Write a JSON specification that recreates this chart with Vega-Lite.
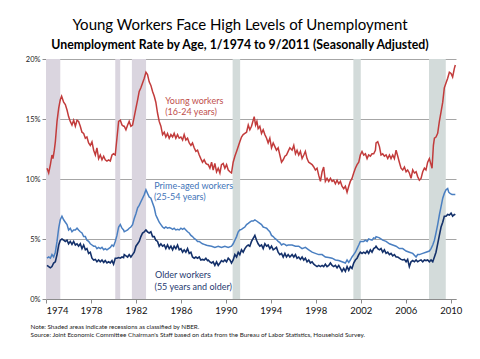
{
"$schema":"https://vega.github.io/schema/vega-lite/v6.json",
"width":410,"height":240,
"autosize":{"type":"none"},
"padding":{"left":46,"top":59,"right":24,"bottom":60},
"background":"white",
"config":{"font":"Lato","view":{"stroke":null}},
"title":{"text":"Young Workers Face High Levels of Unemployment","subtitle":"Unemployment Rate by Age, 1/1974 to 9/2011 (Seasonally Adjusted)","anchor":"middle","frame":"group","dx":-11,"fontSize":15,"fontWeight":"normal","color":"#000","subtitleFontSize":12.3,"subtitleFontWeight":"bold","subtitleColor":"#000","subtitlePadding":6,"offset":4},
"resolve":{"axis":{"x":"independent","y":"independent"},"scale":{"color":"independent"}},
"datasets":{
"rec":[{"s":1974,"e":1975.27,"k":"early"},{"s":1980.16,"e":1980.6,"k":"early"},{"s":1981.64,"e":1982.9,"k":"early"},{"s":1990.6,"e":1991.27,"k":"late"},{"s":2001.34,"e":2002.0,"k":"late"},{"s":2008.07,"e":2009.56,"k":"late"}],
"lab":[{"t":1984.6,"v":16.5,"txt":"Young workers","g":"y"},{"t":1984.6,"v":15.58,"txt":"(16-24 years)","g":"y"},{"t":1983.63,"v":9.44,"txt":"Prime-aged workers","g":"p"},{"t":1983.6,"v":8.53,"txt":"(25-54 years)","g":"p"},{"t":1983.7,"v":2.0,"txt":"Older workers","g":"o"},{"t":1983.65,"v":1.0,"txt":"(55 years and older)","g":"o"}],
"young":[{"t":1974.09,"v":10.9},{"t":1974.24,"v":10.5},{"t":1974.39,"v":11.2},{"t":1974.53,"v":12.0},{"t":1974.62,"v":11.7},{"t":1974.74,"v":12.4},{"t":1974.83,"v":13.1},{"t":1974.98,"v":14.8},{"t":1975.13,"v":15.9},{"t":1975.27,"v":16.6},{"t":1975.39,"v":16.9},{"t":1975.57,"v":16.4},{"t":1975.72,"v":16.2},{"t":1975.87,"v":15.75},{"t":1976.01,"v":15.2},{"t":1976.16,"v":14.8},{"t":1976.31,"v":14.5},{"t":1976.46,"v":14.9},{"t":1976.61,"v":14.4},{"t":1976.76,"v":14.9},{"t":1976.9,"v":14.8},{"t":1977.05,"v":14.4},{"t":1977.2,"v":13.9},{"t":1977.35,"v":13.8},{"t":1977.5,"v":13.4},{"t":1977.64,"v":13.5},{"t":1977.79,"v":13.0},{"t":1977.94,"v":12.8},{"t":1978.09,"v":13.1},{"t":1978.24,"v":12.4},{"t":1978.39,"v":12.0},{"t":1978.53,"v":12.6},{"t":1978.68,"v":11.7},{"t":1978.83,"v":12.0},{"t":1978.98,"v":11.6},{"t":1979.13,"v":11.9},{"t":1979.27,"v":11.6},{"t":1979.42,"v":11.5},{"t":1979.57,"v":11.6},{"t":1979.72,"v":11.5},{"t":1979.87,"v":12.0},{"t":1980.01,"v":12.1},{"t":1980.16,"v":12.0},{"t":1980.31,"v":13.4},{"t":1980.46,"v":14.8},{"t":1980.61,"v":14.9},{"t":1980.76,"v":14.5},{"t":1980.9,"v":14.4},{"t":1980.96,"v":14.4},{"t":1981.11,"v":14.1},{"t":1981.26,"v":14.5},{"t":1981.4,"v":14.8},{"t":1981.55,"v":14.4},{"t":1981.7,"v":14.5},{"t":1981.85,"v":15.2},{"t":1982.0,"v":15.9},{"t":1982.15,"v":16.6},{"t":1982.29,"v":17.3},{"t":1982.44,"v":17.6},{"t":1982.59,"v":18.0},{"t":1982.74,"v":18.4},{"t":1982.89,"v":18.9},{"t":1983.03,"v":18.7},{"t":1983.18,"v":18.1},{"t":1983.33,"v":17.8},{"t":1983.48,"v":17.3},{"t":1983.63,"v":16.9},{"t":1983.77,"v":16.4},{"t":1983.92,"v":15.5},{"t":1984.07,"v":14.8},{"t":1984.22,"v":14.4},{"t":1984.37,"v":13.7},{"t":1984.52,"v":13.9},{"t":1984.66,"v":13.5},{"t":1984.81,"v":13.8},{"t":1984.96,"v":13.4},{"t":1985.11,"v":13.7},{"t":1985.26,"v":13.5},{"t":1985.4,"v":13.8},{"t":1985.55,"v":13.4},{"t":1985.7,"v":13.7},{"t":1985.85,"v":13.4},{"t":1986.0,"v":13.5},{"t":1986.15,"v":13.25},{"t":1986.29,"v":13.7},{"t":1986.44,"v":13.25},{"t":1986.59,"v":13.4},{"t":1986.74,"v":13.0},{"t":1986.89,"v":12.8},{"t":1987.03,"v":13.0},{"t":1987.18,"v":12.6},{"t":1987.33,"v":12.3},{"t":1987.48,"v":12.4},{"t":1987.63,"v":12.0},{"t":1987.77,"v":11.7},{"t":1987.92,"v":11.4},{"t":1988.07,"v":11.6},{"t":1988.22,"v":11.3},{"t":1988.37,"v":11.2},{"t":1988.43,"v":11.2},{"t":1988.58,"v":10.9},{"t":1988.73,"v":11.4},{"t":1988.87,"v":10.75},{"t":1989.02,"v":11.3},{"t":1989.17,"v":10.6},{"t":1989.32,"v":10.9},{"t":1989.47,"v":10.5},{"t":1989.61,"v":11.2},{"t":1989.76,"v":11.3},{"t":1989.91,"v":10.9},{"t":1990.06,"v":11.2},{"t":1990.21,"v":10.75},{"t":1990.36,"v":10.6},{"t":1990.5,"v":10.5},{"t":1990.65,"v":11.4},{"t":1990.8,"v":11.9},{"t":1990.95,"v":12.3},{"t":1991.1,"v":12.7},{"t":1991.24,"v":13.1},{"t":1991.39,"v":13.5},{"t":1991.54,"v":13.7},{"t":1991.69,"v":13.8},{"t":1991.84,"v":13.9},{"t":1991.99,"v":14.5},{"t":1992.13,"v":14.1},{"t":1992.28,"v":14.4},{"t":1992.43,"v":14.9},{"t":1992.52,"v":15.2},{"t":1992.64,"v":14.5},{"t":1992.76,"v":14.8},{"t":1992.87,"v":14.2},{"t":1993.02,"v":14.4},{"t":1993.17,"v":13.8},{"t":1993.32,"v":14.1},{"t":1993.47,"v":13.7},{"t":1993.62,"v":13.4},{"t":1993.76,"v":13.0},{"t":1993.91,"v":13.4},{"t":1994.06,"v":12.6},{"t":1994.21,"v":13.0},{"t":1994.36,"v":12.7},{"t":1994.5,"v":12.4},{"t":1994.65,"v":12.6},{"t":1994.8,"v":12.0},{"t":1994.95,"v":11.4},{"t":1995.1,"v":11.6},{"t":1995.25,"v":11.9},{"t":1995.39,"v":12.0},{"t":1995.54,"v":12.3},{"t":1995.69,"v":12.6},{"t":1995.89,"v":12.4},{"t":1996.04,"v":12.8},{"t":1996.19,"v":12.1},{"t":1996.33,"v":12.4},{"t":1996.48,"v":12.0},{"t":1996.63,"v":12.3},{"t":1996.78,"v":11.7},{"t":1996.93,"v":12.0},{"t":1997.07,"v":12.3},{"t":1997.22,"v":11.7},{"t":1997.37,"v":11.4},{"t":1997.52,"v":11.3},{"t":1997.67,"v":11.2},{"t":1997.82,"v":11.0},{"t":1997.96,"v":10.75},{"t":1998.11,"v":10.9},{"t":1998.26,"v":10.3},{"t":1998.41,"v":9.8},{"t":1998.56,"v":10.6},{"t":1998.7,"v":11.0},{"t":1998.85,"v":9.8},{"t":1999.0,"v":10.05},{"t":1999.15,"v":9.8},{"t":1999.3,"v":10.05},{"t":1999.45,"v":9.8},{"t":1999.59,"v":9.9},{"t":1999.74,"v":9.6},{"t":1999.89,"v":9.9},{"t":2000.04,"v":9.6},{"t":2000.19,"v":9.8},{"t":2000.33,"v":9.4},{"t":2000.48,"v":9.2},{"t":2000.63,"v":9.4},{"t":2000.78,"v":8.9},{"t":2000.93,"v":9.4},{"t":2001.07,"v":9.8},{"t":2001.22,"v":10.05},{"t":2001.37,"v":10.5},{"t":2001.52,"v":10.9},{"t":2001.67,"v":11.2},{"t":2001.82,"v":11.4},{"t":2001.96,"v":12.0},{"t":2002.11,"v":12.3},{"t":2002.26,"v":12.0},{"t":2002.41,"v":12.1},{"t":2002.56,"v":11.7},{"t":2002.7,"v":12.0},{"t":2002.85,"v":11.9},{"t":2003.0,"v":12.1},{"t":2003.15,"v":12.1},{"t":2003.3,"v":12.4},{"t":2003.36,"v":13.0},{"t":2003.51,"v":13.1},{"t":2003.66,"v":12.7},{"t":2003.8,"v":12.0},{"t":2003.95,"v":12.1},{"t":2004.1,"v":11.9},{"t":2004.25,"v":12.0},{"t":2004.4,"v":11.7},{"t":2004.55,"v":12.0},{"t":2004.69,"v":11.7},{"t":2004.84,"v":12.0},{"t":2004.99,"v":11.7},{"t":2005.14,"v":12.4},{"t":2005.29,"v":11.9},{"t":2005.43,"v":11.4},{"t":2005.58,"v":10.9},{"t":2005.73,"v":10.75},{"t":2005.88,"v":11.0},{"t":2006.03,"v":10.6},{"t":2006.17,"v":10.75},{"t":2006.32,"v":10.5},{"t":2006.47,"v":10.05},{"t":2006.62,"v":10.75},{"t":2006.77,"v":10.5},{"t":2006.92,"v":10.6},{"t":2007.06,"v":10.2},{"t":2007.21,"v":9.9},{"t":2007.36,"v":10.05},{"t":2007.51,"v":10.6},{"t":2007.66,"v":10.9},{"t":2007.8,"v":10.75},{"t":2007.95,"v":11.4},{"t":2008.1,"v":11.7},{"t":2008.25,"v":11.2},{"t":2008.34,"v":10.9},{"t":2008.46,"v":12.8},{"t":2008.55,"v":13.4},{"t":2008.69,"v":13.5},{"t":2008.84,"v":13.8},{"t":2008.99,"v":14.8},{"t":2009.14,"v":15.6},{"t":2009.29,"v":16.4},{"t":2009.43,"v":17.6},{"t":2009.58,"v":18.0},{"t":2009.73,"v":18.4},{"t":2009.88,"v":18.9},{"t":2010.03,"v":18.8},{"t":2010.17,"v":18.5},{"t":2010.32,"v":19.2},{"t":2010.41,"v":19.5}],
"prime":[{"t":1974.09,"v":3.4},{"t":1974.24,"v":3.5},{"t":1974.39,"v":3.4},{"t":1974.53,"v":3.7},{"t":1974.68,"v":3.5},{"t":1974.83,"v":3.9},{"t":1974.98,"v":4.8},{"t":1975.13,"v":5.9},{"t":1975.27,"v":6.6},{"t":1975.42,"v":6.9},{"t":1975.57,"v":6.6},{"t":1975.72,"v":6.4},{"t":1975.87,"v":6.2},{"t":1976.01,"v":5.75},{"t":1976.16,"v":5.9},{"t":1976.31,"v":5.6},{"t":1976.46,"v":5.75},{"t":1976.61,"v":5.75},{"t":1976.76,"v":5.9},{"t":1976.9,"v":5.75},{"t":1977.05,"v":5.6},{"t":1977.2,"v":5.5},{"t":1977.35,"v":5.2},{"t":1977.5,"v":5.2},{"t":1977.64,"v":4.9},{"t":1977.79,"v":4.8},{"t":1977.94,"v":4.6},{"t":1978.09,"v":4.5},{"t":1978.24,"v":4.4},{"t":1978.39,"v":4.4},{"t":1978.53,"v":4.2},{"t":1978.68,"v":4.3},{"t":1978.83,"v":4.2},{"t":1978.98,"v":4.3},{"t":1979.13,"v":4.1},{"t":1979.27,"v":4.2},{"t":1979.42,"v":4.1},{"t":1979.57,"v":4.2},{"t":1979.72,"v":4.3},{"t":1979.87,"v":4.5},{"t":1980.01,"v":4.4},{"t":1980.16,"v":4.8},{"t":1980.31,"v":5.3},{"t":1980.46,"v":6.0},{"t":1980.61,"v":6.2},{"t":1980.76,"v":5.9},{"t":1980.9,"v":5.75},{"t":1980.96,"v":5.6},{"t":1981.26,"v":5.75},{"t":1981.4,"v":5.9},{"t":1981.55,"v":6.0},{"t":1981.7,"v":6.2},{"t":1981.85,"v":6.7},{"t":1982.0,"v":7.1},{"t":1982.15,"v":7.6},{"t":1982.29,"v":7.8},{"t":1982.44,"v":8.1},{"t":1982.59,"v":8.4},{"t":1982.74,"v":8.7},{"t":1982.89,"v":9.1},{"t":1983.03,"v":8.8},{"t":1983.18,"v":8.5},{"t":1983.33,"v":8.4},{"t":1983.48,"v":8.0},{"t":1983.63,"v":7.6},{"t":1983.77,"v":7.0},{"t":1983.92,"v":6.7},{"t":1984.07,"v":6.4},{"t":1984.22,"v":6.2},{"t":1984.37,"v":6.0},{"t":1984.52,"v":5.9},{"t":1984.66,"v":6.0},{"t":1984.81,"v":5.9},{"t":1984.96,"v":5.95},{"t":1985.11,"v":5.9},{"t":1985.26,"v":5.8},{"t":1985.4,"v":5.9},{"t":1985.55,"v":5.75},{"t":1985.7,"v":5.8},{"t":1985.85,"v":5.75},{"t":1986.0,"v":5.9},{"t":1986.15,"v":5.8},{"t":1986.29,"v":5.9},{"t":1986.44,"v":5.75},{"t":1986.59,"v":5.6},{"t":1986.74,"v":5.5},{"t":1986.89,"v":5.3},{"t":1987.03,"v":5.2},{"t":1987.18,"v":5.05},{"t":1987.33,"v":4.95},{"t":1987.48,"v":4.8},{"t":1987.63,"v":4.8},{"t":1987.77,"v":4.7},{"t":1987.92,"v":4.6},{"t":1988.07,"v":4.55},{"t":1988.22,"v":4.5},{"t":1988.37,"v":4.45},{"t":1988.73,"v":4.4},{"t":1989.02,"v":4.3},{"t":1989.32,"v":4.4},{"t":1989.61,"v":4.3},{"t":1989.91,"v":4.4},{"t":1990.21,"v":4.3},{"t":1990.5,"v":4.4},{"t":1990.65,"v":4.6},{"t":1990.8,"v":4.9},{"t":1990.95,"v":5.2},{"t":1991.1,"v":5.6},{"t":1991.24,"v":5.75},{"t":1991.39,"v":5.8},{"t":1991.54,"v":5.9},{"t":1991.69,"v":6.0},{"t":1991.84,"v":6.2},{"t":1991.99,"v":6.3},{"t":1992.13,"v":6.4},{"t":1992.28,"v":6.5},{"t":1992.43,"v":6.5},{"t":1992.58,"v":6.6},{"t":1992.73,"v":6.5},{"t":1992.87,"v":6.4},{"t":1993.02,"v":6.3},{"t":1993.17,"v":6.2},{"t":1993.32,"v":6.0},{"t":1993.47,"v":5.95},{"t":1993.62,"v":5.9},{"t":1993.76,"v":5.75},{"t":1993.91,"v":5.6},{"t":1994.06,"v":5.3},{"t":1994.21,"v":5.2},{"t":1994.36,"v":5.05},{"t":1994.5,"v":4.95},{"t":1994.65,"v":4.8},{"t":1994.8,"v":4.7},{"t":1994.95,"v":4.5},{"t":1995.1,"v":4.6},{"t":1995.25,"v":4.55},{"t":1995.39,"v":4.45},{"t":1995.54,"v":4.5},{"t":1995.89,"v":4.5},{"t":1996.19,"v":4.4},{"t":1996.48,"v":4.4},{"t":1996.78,"v":4.2},{"t":1997.07,"v":4.3},{"t":1997.37,"v":4.1},{"t":1997.67,"v":3.9},{"t":1997.96,"v":3.8},{"t":1998.26,"v":3.7},{"t":1998.56,"v":3.7},{"t":1998.85,"v":3.5},{"t":1999.15,"v":3.45},{"t":1999.45,"v":3.4},{"t":1999.74,"v":3.25},{"t":2000.04,"v":3.2},{"t":2000.33,"v":3.1},{"t":2000.63,"v":3.0},{"t":2000.78,"v":3.25},{"t":2000.93,"v":3.05},{"t":2001.07,"v":3.25},{"t":2001.22,"v":3.5},{"t":2001.37,"v":3.7},{"t":2001.52,"v":3.9},{"t":2001.67,"v":4.2},{"t":2001.82,"v":4.5},{"t":2001.96,"v":4.8},{"t":2002.11,"v":4.8},{"t":2002.26,"v":4.8},{"t":2002.41,"v":4.9},{"t":2002.56,"v":4.8},{"t":2002.7,"v":5.0},{"t":2003.0,"v":4.9},{"t":2003.15,"v":5.1},{"t":2003.3,"v":5.05},{"t":2003.36,"v":5.2},{"t":2003.66,"v":5.1},{"t":2003.95,"v":4.9},{"t":2004.25,"v":4.8},{"t":2004.55,"v":4.6},{"t":2004.84,"v":4.5},{"t":2005.14,"v":4.4},{"t":2005.43,"v":4.2},{"t":2005.73,"v":4.2},{"t":2006.03,"v":4.0},{"t":2006.32,"v":3.9},{"t":2006.62,"v":3.8},{"t":2006.92,"v":3.5},{"t":2007.06,"v":3.7},{"t":2007.21,"v":3.7},{"t":2007.51,"v":3.8},{"t":2007.8,"v":3.9},{"t":2008.1,"v":4.0},{"t":2008.25,"v":4.2},{"t":2008.4,"v":4.5},{"t":2008.55,"v":4.9},{"t":2008.69,"v":5.5},{"t":2008.84,"v":6.2},{"t":2008.99,"v":7.0},{"t":2009.14,"v":7.7},{"t":2009.29,"v":8.4},{"t":2009.43,"v":8.8},{"t":2009.58,"v":9.1},{"t":2009.73,"v":9.2},{"t":2009.82,"v":8.9},{"t":2009.94,"v":8.8},{"t":2010.12,"v":8.7},{"t":2010.32,"v":8.7},{"t":2010.41,"v":8.7}],
"older":[{"t":1974.09,"v":2.8},{"t":1974.24,"v":2.7},{"t":1974.39,"v":2.6},{"t":1974.53,"v":2.7},{"t":1974.68,"v":3.0},{"t":1974.83,"v":3.1},{"t":1974.98,"v":3.7},{"t":1975.13,"v":4.5},{"t":1975.27,"v":4.9},{"t":1975.42,"v":5.0},{"t":1975.57,"v":4.9},{"t":1975.72,"v":4.8},{"t":1975.87,"v":4.9},{"t":1976.01,"v":4.6},{"t":1976.16,"v":4.8},{"t":1976.31,"v":4.55},{"t":1976.46,"v":4.8},{"t":1976.61,"v":4.5},{"t":1976.76,"v":4.6},{"t":1976.9,"v":4.4},{"t":1977.05,"v":4.6},{"t":1977.2,"v":4.2},{"t":1977.35,"v":4.5},{"t":1977.5,"v":4.1},{"t":1977.64,"v":4.2},{"t":1977.79,"v":3.8},{"t":1977.94,"v":3.9},{"t":1978.09,"v":3.4},{"t":1978.24,"v":3.25},{"t":1978.39,"v":3.3},{"t":1978.53,"v":3.1},{"t":1978.68,"v":3.25},{"t":1978.83,"v":3.1},{"t":1978.98,"v":3.25},{"t":1979.13,"v":3.05},{"t":1979.27,"v":3.2},{"t":1979.42,"v":3.0},{"t":1979.57,"v":3.1},{"t":1979.72,"v":3.0},{"t":1979.87,"v":3.2},{"t":1980.01,"v":2.9},{"t":1980.16,"v":3.4},{"t":1980.31,"v":3.4},{"t":1980.46,"v":3.45},{"t":1980.61,"v":3.4},{"t":1980.76,"v":3.5},{"t":1980.9,"v":3.45},{"t":1980.96,"v":3.7},{"t":1981.11,"v":3.6},{"t":1981.26,"v":3.5},{"t":1981.4,"v":3.7},{"t":1981.55,"v":3.5},{"t":1981.7,"v":3.7},{"t":1981.85,"v":3.9},{"t":1982.0,"v":4.4},{"t":1982.15,"v":4.6},{"t":1982.29,"v":4.8},{"t":1982.44,"v":5.2},{"t":1982.59,"v":5.5},{"t":1982.74,"v":5.6},{"t":1982.89,"v":5.75},{"t":1983.03,"v":5.6},{"t":1983.18,"v":5.5},{"t":1983.33,"v":5.6},{"t":1983.48,"v":5.2},{"t":1983.63,"v":5.2},{"t":1983.77,"v":4.9},{"t":1983.92,"v":4.8},{"t":1984.07,"v":4.4},{"t":1984.22,"v":4.6},{"t":1984.37,"v":4.4},{"t":1984.52,"v":4.5},{"t":1984.66,"v":4.2},{"t":1984.81,"v":4.5},{"t":1984.96,"v":4.2},{"t":1985.11,"v":4.4},{"t":1985.26,"v":4.1},{"t":1985.4,"v":4.4},{"t":1985.55,"v":4.2},{"t":1985.7,"v":4.5},{"t":1985.85,"v":4.1},{"t":1986.0,"v":4.2},{"t":1986.15,"v":3.9},{"t":1986.29,"v":4.1},{"t":1986.44,"v":3.9},{"t":1986.59,"v":4.2},{"t":1986.74,"v":3.8},{"t":1986.89,"v":3.9},{"t":1987.03,"v":3.5},{"t":1987.18,"v":3.4},{"t":1987.33,"v":3.5},{"t":1987.48,"v":3.4},{"t":1987.63,"v":3.5},{"t":1987.77,"v":3.25},{"t":1987.92,"v":3.3},{"t":1988.07,"v":3.25},{"t":1988.22,"v":3.4},{"t":1988.37,"v":3.2},{"t":1988.43,"v":3.25},{"t":1988.58,"v":3.1},{"t":1988.73,"v":3.0},{"t":1988.87,"v":3.1},{"t":1989.02,"v":2.8},{"t":1989.17,"v":3.1},{"t":1989.32,"v":2.8},{"t":1989.47,"v":3.0},{"t":1989.61,"v":3.2},{"t":1989.76,"v":3.1},{"t":1989.91,"v":3.25},{"t":1990.06,"v":3.1},{"t":1990.21,"v":3.4},{"t":1990.36,"v":3.25},{"t":1990.5,"v":3.0},{"t":1990.65,"v":3.25},{"t":1990.8,"v":3.7},{"t":1990.95,"v":3.5},{"t":1991.1,"v":3.9},{"t":1991.24,"v":3.7},{"t":1991.39,"v":4.1},{"t":1991.54,"v":3.9},{"t":1991.69,"v":4.2},{"t":1991.84,"v":4.4},{"t":1991.99,"v":4.5},{"t":1992.13,"v":4.4},{"t":1992.28,"v":4.8},{"t":1992.43,"v":5.05},{"t":1992.58,"v":5.3},{"t":1992.73,"v":4.9},{"t":1992.87,"v":4.6},{"t":1993.02,"v":4.4},{"t":1993.17,"v":4.5},{"t":1993.32,"v":4.2},{"t":1993.47,"v":4.6},{"t":1993.62,"v":4.4},{"t":1993.76,"v":4.5},{"t":1993.91,"v":4.2},{"t":1994.06,"v":4.4},{"t":1994.21,"v":4.1},{"t":1994.36,"v":4.2},{"t":1994.5,"v":4.3},{"t":1994.65,"v":3.9},{"t":1994.8,"v":3.7},{"t":1994.95,"v":3.8},{"t":1995.1,"v":3.5},{"t":1995.25,"v":3.8},{"t":1995.39,"v":3.5},{"t":1995.54,"v":3.7},{"t":1995.69,"v":3.5},{"t":1995.89,"v":3.7},{"t":1996.04,"v":3.5},{"t":1996.19,"v":3.7},{"t":1996.33,"v":3.4},{"t":1996.48,"v":3.5},{"t":1996.63,"v":3.3},{"t":1996.78,"v":3.5},{"t":1996.93,"v":3.25},{"t":1997.07,"v":3.4},{"t":1997.22,"v":3.1},{"t":1997.37,"v":3.25},{"t":1997.52,"v":3.0},{"t":1997.67,"v":3.1},{"t":1997.82,"v":2.9},{"t":1997.96,"v":2.8},{"t":1998.11,"v":2.7},{"t":1998.26,"v":2.8},{"t":1998.41,"v":2.7},{"t":1998.56,"v":2.8},{"t":1998.7,"v":2.7},{"t":1998.85,"v":2.9},{"t":1999.0,"v":2.7},{"t":1999.15,"v":2.8},{"t":1999.3,"v":3.0},{"t":1999.45,"v":2.8},{"t":1999.59,"v":2.7},{"t":1999.74,"v":2.8},{"t":1999.89,"v":2.6},{"t":2000.04,"v":2.8},{"t":2000.19,"v":2.55},{"t":2000.33,"v":2.3},{"t":2000.48,"v":2.55},{"t":2000.63,"v":2.3},{"t":2000.78,"v":2.7},{"t":2000.93,"v":2.4},{"t":2001.07,"v":2.7},{"t":2001.22,"v":2.55},{"t":2001.37,"v":3.0},{"t":2001.52,"v":3.25},{"t":2001.67,"v":3.4},{"t":2001.82,"v":3.7},{"t":2001.96,"v":3.9},{"t":2002.11,"v":3.8},{"t":2002.26,"v":3.9},{"t":2002.41,"v":3.8},{"t":2002.56,"v":4.0},{"t":2002.7,"v":3.8},{"t":2002.85,"v":4.1},{"t":2003.0,"v":3.9},{"t":2003.15,"v":4.2},{"t":2003.3,"v":4.3},{"t":2003.36,"v":4.4},{"t":2003.51,"v":4.2},{"t":2003.66,"v":4.1},{"t":2003.8,"v":4.2},{"t":2003.95,"v":3.9},{"t":2004.1,"v":4.1},{"t":2004.25,"v":3.8},{"t":2004.4,"v":3.9},{"t":2004.55,"v":3.7},{"t":2004.69,"v":3.8},{"t":2004.84,"v":3.6},{"t":2004.99,"v":3.7},{"t":2005.14,"v":3.5},{"t":2005.29,"v":3.5},{"t":2005.43,"v":3.4},{"t":2005.58,"v":3.3},{"t":2005.73,"v":3.25},{"t":2005.88,"v":3.3},{"t":2006.03,"v":3.1},{"t":2006.17,"v":3.3},{"t":2006.32,"v":2.7},{"t":2006.47,"v":3.1},{"t":2006.62,"v":3.2},{"t":2006.77,"v":3.1},{"t":2006.92,"v":3.25},{"t":2007.06,"v":3.1},{"t":2007.21,"v":3.2},{"t":2007.36,"v":3.25},{"t":2007.51,"v":3.1},{"t":2007.66,"v":3.25},{"t":2007.8,"v":3.2},{"t":2007.95,"v":3.25},{"t":2008.1,"v":3.1},{"t":2008.25,"v":3.25},{"t":2008.4,"v":3.1},{"t":2008.55,"v":3.5},{"t":2008.69,"v":3.9},{"t":2008.84,"v":4.6},{"t":2008.99,"v":5.3},{"t":2009.14,"v":6.0},{"t":2009.29,"v":6.4},{"t":2009.43,"v":6.9},{"t":2009.58,"v":6.9},{"t":2009.73,"v":7.05},{"t":2009.88,"v":7.0},{"t":2010.03,"v":7.15},{"t":2010.17,"v":6.9},{"t":2010.32,"v":7.05},{"t":2010.41,"v":7.0}]
},
"layer":[
{"data":{"name":"rec"},"mark":{"type":"rect","opacity":1},
 "encoding":{"x":{"field":"s","type":"quantitative","scale":{"domain":[1974,2010.47],"nice":false,"zero":false},"axis":null},"x2":{"field":"e"},
 "color":{"field":"k","type":"nominal","scale":{"domain":["early","late"],"range":["#dad5df","#d3dbda"]},"legend":null}}},
{"data":{"name":"young"},"mark":{"type":"line","color":"#c23b3b","strokeWidth":1.5},
 "encoding":{
  "x":{"field":"t","type":"quantitative","scale":{"domain":[1974,2010.47],"nice":false,"zero":false},
   "axis":{"values":[1974,1978,1982,1986,1990,1994,1998,2002,2006,2010],"format":"d","grid":false,"labelFontSize":9.5,"labelColor":"#111","labelPadding":2,"tickSize":4,"tickColor":"#8c8c8c","domainColor":"#8c8c8c",
    "title":["Note:  Shaded areas indicate recessions as classified by NBER.","Source: Joint Economic Committee  Chairman's Staff based on data from the Bureau of Labor Statistics, Household Survey."],
    "titleAnchor":"start","titleAlign":"left","titleBaseline":"top","titleX":-16,"titleY":24,"titleFontSize":6.3,"titleFontWeight":"normal","titleColor":"#1a1a1a","titleLineHeight":8.4}},
  "y":{"field":"v","type":"quantitative","scale":{"domain":[0,20],"nice":false},
   "axis":{"values":[0,5,10,15,20],"labelExpr":"datum.value + '%'","title":null,"labelFontSize":7.5,"labelColor":"#1a1a1a","labelPadding":2,"tickSize":4,"tickColor":"#8c8c8c","domainColor":"#a6a6a6","grid":true,"gridColor":"#a6a6a6","gridWidth":1}}}},
{"data":{"name":"prime"},"mark":{"type":"line","color":"#4a7fc1","strokeWidth":1.5},
 "encoding":{"x":{"field":"t","type":"quantitative","axis":null},"y":{"field":"v","type":"quantitative","axis":null}}},
{"data":{"name":"older"},"mark":{"type":"line","color":"#13306a","strokeWidth":1.6},
 "encoding":{"x":{"field":"t","type":"quantitative","axis":null},"y":{"field":"v","type":"quantitative","axis":null}}},
{"data":{"name":"lab"},"mark":{"type":"text","align":"left","baseline":"middle","fontSize":9},
 "encoding":{"x":{"field":"t","type":"quantitative","axis":null},"y":{"field":"v","type":"quantitative","axis":null},"text":{"field":"txt"},
  "color":{"field":"g","type":"nominal","scale":{"domain":["y","p","o"],"range":["#c0504d","#3f74b8","#1f3a70"]},"legend":null}}}
]
}
